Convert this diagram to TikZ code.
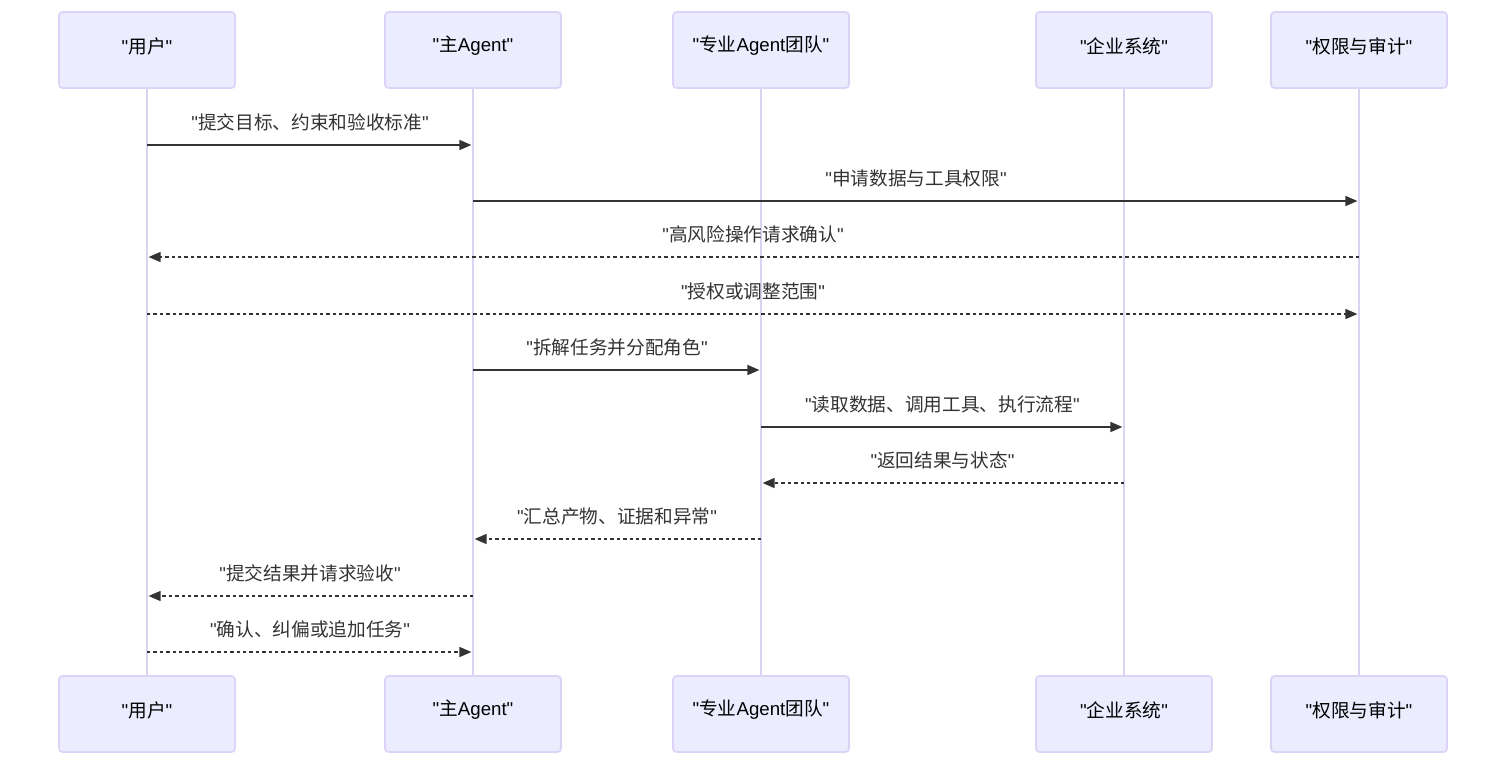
\documentclass[tikz,border=0pt]{standalone}
\usepackage{fontspec}
\setmainfont{Liberation Sans}[Ligatures=TeXOff]
\newfontfamily\cjkf{Noto Sans CJK SC}
\newcommand{\zh}[1]{{\cjkf #1}}
\usetikzlibrary{arrows.meta}
\definecolor{actfill}{HTML}{ECECFF}
\definecolor{actline}{HTML}{DDD3F7}
\definecolor{lifeln}{HTML}{DCD3F2}
\definecolor{msgcol}{HTML}{333333}
\begin{document}
\begin{tikzpicture}[x=0.75pt,y=-0.75pt,
  actor/.style={draw=actline,fill=actfill,line width=1.2pt,rounded corners=2.5pt,
    minimum width=132pt,minimum height=57pt,inner sep=0pt,text=black},
  atxt/.style={font=\fontsize{14}{16}\selectfont,inner sep=0pt,text=black},
  life/.style={draw=lifeln,line width=1.5pt},
  msg/.style={draw=msgcol,line width=1.1pt,shorten >=1.2pt,-{Triangle[length=9pt,width=7.5pt]}},
  rmsg/.style={msg,dash pattern=on 2.6pt off 2.2pt},
  lbl/.style={font=\fontsize{14}{16}\selectfont,text=msgcol,inner sep=0pt,anchor=center,yshift=17pt}]
\useasboundingbox (0,0) rectangle (1506,765);
% actors
\foreach \n/\x/\t in {u/147/{"\zh{用户}"},a/473/{"\zh{主}Agent"},t/761/{"\zh{专业}Agent\zh{团队}"},e/1124/{"\zh{企业系统}"},p/1359/{"\zh{权限与审计}"}}{
  \node[actor] (\n T) at (\x,50) {};
  \node[atxt] (\n Tl) at (\x,46) {\t};
  \node[actor] (\n B) at (\x,714) {};
  \node[atxt] (\n Bl) at (\x,710) {\t};
}
% lifelines
\draw[life] (uT.south) -- (uB.north);
\draw[life] (aT.south) -- (aB.north);
\draw[life] (tT.south) -- (tB.north);
\draw[life] (eT.south) -- (eB.north);
\draw[life] (pT.south) -- (pB.north);
% message rows
\foreach \i/\y in {1/145,2/201,3/257,4/314,5/370,6/427,7/483,8/539,9/596,10/652}
  \coordinate (m\i) at (0,\y);
\draw[msg] (uT |- m1) -- (aT |- m1) node[lbl,midway] {"\zh{提交目标、约束和验收标准}"};
\draw[msg] (aT |- m2) -- (pT |- m2) node[lbl,midway] {"\zh{申请数据与工具权限}"};
\draw[rmsg] (pT |- m3) -- (uT |- m3) node[lbl,midway] {"\zh{高风险操作请求确认}"};
\draw[rmsg] (uT |- m4) -- (pT |- m4) node[lbl,midway] {"\zh{授权或调整范围}"};
\draw[msg] (aT |- m5) -- (tT |- m5) node[lbl,midway] {"\zh{拆解任务并分配角色}"};
\draw[msg] (tT |- m6) -- (eT |- m6) node[lbl,midway] {"\zh{读取数据、调用工具、执行流程}"};
\draw[rmsg] (eT |- m7) -- (tT |- m7) node[lbl,midway] {"\zh{返回结果与状态}"};
\draw[rmsg] (tT |- m8) -- (aT |- m8) node[lbl,midway] {"\zh{汇总产物、证据和异常}"};
\draw[rmsg] (aT |- m9) -- (uT |- m9) node[lbl,midway] {"\zh{提交结果并请求验收}"};
\draw[rmsg] (uT |- m10) -- (aT |- m10) node[lbl,midway] {"\zh{确认、纠偏或追加任务}"};
\end{tikzpicture}
\end{document}
